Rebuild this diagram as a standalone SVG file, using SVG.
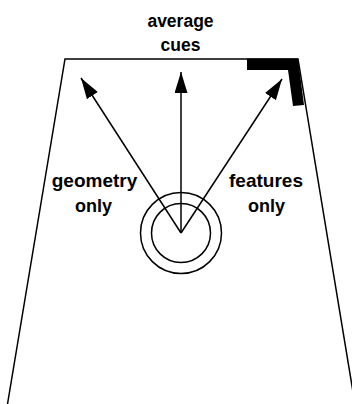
<svg xmlns="http://www.w3.org/2000/svg" width="352" height="404" viewBox="0 0 352 404">
<style>
.t{font-family:"Liberation Sans",Arial,sans-serif;font-weight:bold;font-size:18px;text-anchor:middle;fill:#000}
.ln{stroke:#000;stroke-width:1.5;fill:none}
</style>
<defs>
<marker id="ah" markerUnits="userSpaceOnUse" markerWidth="22" markerHeight="14" refX="21" refY="6.5" orient="auto">
<path d="M0,0 L21,6.5 L0,13 z" fill="#000"/>
</marker>
</defs>
<rect width="352" height="404" fill="#fff"/>
<g id="arena">
<path class="ln" d="M7.5,404 L65,59 L298,59 L355,404"/>
<polygon points="247,58.5 298,58.5 304,105 293,106 288,70 247,70" fill="#000"/>
</g>
<g id="start">
<circle class="ln" cx="181" cy="233" r="40.5"/>
<circle class="ln" cx="181" cy="233" r="29.5"/>
</g>
<g id="connectors">
<line class="ln" x1="181" y1="233" x2="81" y2="78" marker-end="url(#ah)"/>
<line class="ln" x1="181" y1="233" x2="181" y2="72" marker-end="url(#ah)"/>
<line class="ln" x1="181" y1="233" x2="282" y2="79" marker-end="url(#ah)"/>
</g>
<g id="label-average">
<text class="t" x="180.5" y="27" style="font-size:17.5px">average</text>
<text class="t" x="180.5" y="51" style="font-size:17.5px">cues</text>
</g>
<g id="label-geometry">
<text class="t" x="94.5" y="187" style="font-size:19px">geometry</text>
<text class="t" x="93.5" y="212">only</text>
</g>
<g id="label-features">
<text class="t" x="266" y="187" style="font-size:19px">features</text>
<text class="t" x="266.5" y="212">only</text>
</g>
</svg>
